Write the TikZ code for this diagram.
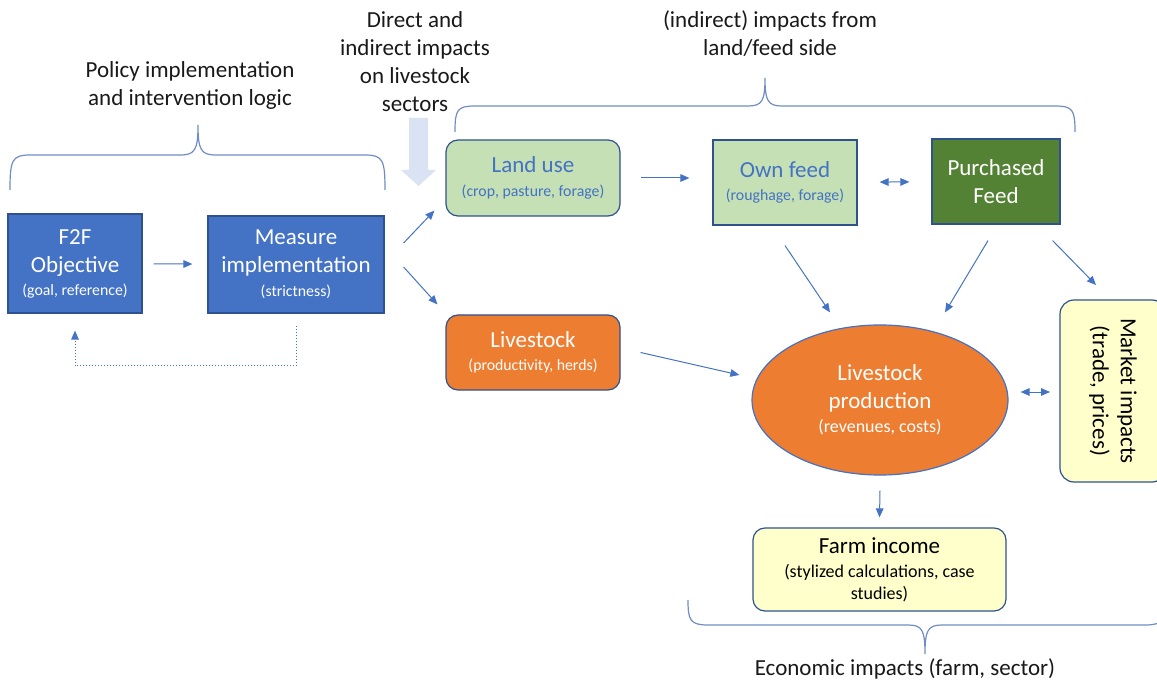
\documentclass[tikz,border=0pt]{standalone}
\usepackage{fontspec}
\setmainfont{Carlito}
\usetikzlibrary{arrows.meta,positioning,shapes.geometric,calc}
\definecolor{boxblue}{HTML}{4472C4}
\definecolor{lineblue}{HTML}{2F528F}
\definecolor{leafgreen}{HTML}{C5E0B4}
\definecolor{feedgreen}{HTML}{548235}
\definecolor{coworange}{HTML}{ED7D31}
\definecolor{paleyellow}{HTML}{FFFFCC}
\definecolor{arrowgray}{HTML}{DAE3F3}
\definecolor{bracegray}{HTML}{6F8DC2}
\newcommand{\subtxt}[1]{{\fontsize{7.9}{11}\selectfont #1}}
\newcommand{\subbig}[1]{{\fontsize{9}{11.5}\selectfont #1}}

\begin{document}
\begin{tikzpicture}[x=0.5pt,y=-0.5pt,every node/.style={font=\fontsize{11.5}{14}\selectfont},box/.style={draw=lineblue,line width=0.6pt,align=center,inner sep=1pt},arr/.style={-{Triangle[length=4.5pt,width=3.8pt]},draw=boxblue,line width=0.5pt},arrboth/.style={{Triangle[length=4.5pt,width=3.8pt]}-{Triangle[length=4.5pt,width=3.8pt]},draw=boxblue,line width=0.5pt},brace/.style={draw=bracegray,line width=0.6pt},label/.style={align=center,text=black!90}]
\useasboundingbox (0,0) rectangle (1157,684);
\clip (0,0) rectangle (1157,684);
% left part: policy logic
\node[box,fill=boxblue,text=white,minimum width=67pt,minimum height=49.5pt] (f2f) at (75,263.5) {F2F\\Objective\\[-2.5pt]\subtxt{(goal, reference)}};
\node[box,fill=boxblue,text=white,minimum width=88pt,minimum height=48.5pt] (measure) at (296,264.5) {Measure\\implementation\\[-2pt]\subtxt{(strictness)}};
\node[label] (policy) at (190,85.5) {Policy implementation\\and intervention logic};
% feed side
\node[box,fill=leafgreen,text=boxblue,rounded corners=6pt,minimum width=87pt,minimum height=38pt] (land) at (533,178) {Land use\\[-2pt]\subtxt{(crop, pasture, forage)}};
\node[box,fill=leafgreen,text=boxblue,minimum width=72pt,minimum height=42.5pt] (own) at (785,182.5) {Own feed\\[-2.5pt]\subtxt{(roughage, forage)}};
\node[box,fill=feedgreen,text=white,minimum width=64pt,minimum height=42.5pt] (purch) at (996,181.5) {Purchased\\Feed};
\node[label] (direct) at (415,61.5) {Direct and\\indirect impacts\\on livestock\\sectors};
\node[label] (indirect) at (770,33.5) {(indirect) impacts from\\land/feed side};
% livestock side
\node[box,fill=coworange,text=white,rounded corners=6pt,minimum width=87pt,minimum height=37.5pt] (live) at (533,352.5) {Livestock\\[-2.5pt]\subtxt{(productivity, herds)}};
\node[box,draw=boxblue,ellipse,fill=coworange,text=white,inner sep=0pt,minimum width=128pt,minimum height=75pt] (prod) at (880,400) {Livestock\\production\\[-2pt]\subbig{(revenues, costs)}};
\node[box,fill=paleyellow,text=black,rounded corners=7pt,rotate=-90,minimum width=91pt,minimum height=53pt] (market) at (1113,391) {Market impacts\\(trade, prices)};
\node[box,fill=paleyellow,text=black,rounded corners=6pt,minimum width=126.5pt,minimum height=41.5pt] (farm) at (879.5,569.5) {Farm income\\[-2pt]\subbig{(stylized calculations, case}\\[-3pt]\subbig{studies)}};
\node[label] (econ) at (905,669) {Economic impacts (farm, sector)};
% braces
\draw[brace] (10,190) .. controls (10,160) and (12,155) .. (30,155) -- (180,155) .. controls (195,155) and (198,150) .. (198,125) .. controls (198,150) and (201,155) .. (216,155) -- (365,155) .. controls (383,155) and (385,160) .. (385,190);
\draw[brace] (455,132) .. controls (455,110) and (457,106) .. (475,106) -- (748,106) .. controls (762,106) and (765,101) .. (765,78) .. controls (765,101) and (768,106) .. (782,106) -- (1055,106) .. controls (1073,106) and (1075,110) .. (1075,132);
\draw[brace] (688,600) .. controls (688,620) and (690,625) .. (708,625) -- (908,625) .. controls (922,625) and (925,630) .. (925,654) .. controls (925,630) and (928,625) .. (942,625) -- (1145,625) .. controls (1163,625) and (1165,620) .. (1165,600);
% block arrow under the label
\fill[arrowgray] (409,118) -- (428,118) -- (428,170) -- (436,170) -- (418.5,186) -- (401,170) -- (409,170) -- cycle;
% connectors
\draw[arr,shorten <=5.5pt,shorten >=7.5pt] (f2f) -- (measure);
\draw[arr,densely dotted] ([yshift=-6pt]measure.south) -- ++(0,-20pt) -| ([yshift=-8.5pt]f2f.south);
\draw[arr] ([xshift=9.5pt,yshift=10.75pt]measure.east) -- ([xshift=-5.5pt,yshift=3pt]land.south west);
\draw[arr] ([xshift=9.5pt,yshift=-1.25pt]measure.east) -- ([xshift=-4pt,yshift=5pt]live.north west);
\draw[arr] ([xshift=10pt]land.east) -- ([xshift=-11.5pt]land.east -| own.west);
\draw[arrboth,shorten <=11pt,shorten >=11pt] (own) -- (purch);
\draw[arr] ([yshift=-10pt]own.south) -- ([xshift=-25pt,yshift=6pt]prod.north);
\draw[arr] ([xshift=-4pt,yshift=-8pt]purch.south) -- ([xshift=32.5pt,yshift=6pt]prod.north);
\draw[arr] ([xshift=-4pt,yshift=-8pt]purch.south east) -- ([xshift=-8.5pt,yshift=53pt]market.center);
\draw[arr] ([xshift=10pt]live.east) -- ([xshift=-6pt,yshift=12.5pt]prod.west);
\draw[arrboth] ([xshift=6pt,yshift=4pt]prod.east) -- ([xshift=-31.5pt,yshift=-0.5pt]market.center);
\draw[arr] ([yshift=-7.5pt]prod.south) -- ([yshift=5pt]farm.north);
\end{tikzpicture}
\end{document}
